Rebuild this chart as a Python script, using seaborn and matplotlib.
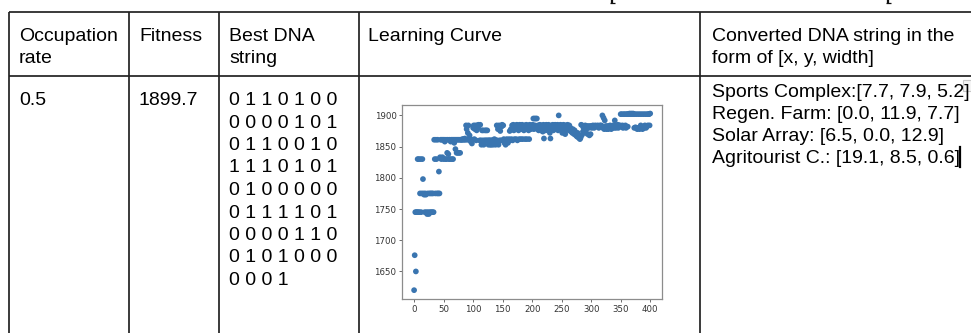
import matplotlib
matplotlib.use("Agg")
import matplotlib.pyplot as plt
from matplotlib.lines import Line2D
from matplotlib.patches import Rectangle
import seaborn as sns
import pandas as pd
import numpy as np

# ---------------- data ----------------
header_cells = [["Occupation", "rate"], ["Fitness"], ["Best DNA", "string"],
                ["Learning Curve"], ["Converted DNA string in the", "form of [x, y, width]"]]
occupation_rate = "0.5"
fitness_value = "1899.7"
dna_lines = ["0 1 1 0 1 0 0", "0 0 0 0 1 0 1", "0 1 1 0 0 1 0", "1 1 1 0 1 0 1",
             "0 1 0 0 0 0 0", "0 1 1 1 1 0 1", "0 0 0 0 1 1 0", "0 1 0 1 0 0 0", "0 0 0 1"]
converted_lines = ["Sports Complex:[7.7, 7.9, 5.2]", "Regen. Farm: [0.0, 11.9, 7.7]",
                   "Solar Array: [6.5, 0.0, 12.9]", "Agritourist C.: [19.1, 8.5, 0.6]"]

# best fitness per generation (gen 0..400)
fitness_by_gen = [
    1620, 1676, 1745, 1650, 1745, 1745, 1830, 1745, 1830, 1745,
    1775, 1830, 1745, 1775, 1830, 1798, 1775, 1773, 1745, 1775,
    1773, 1745, 1742, 1775, 1745, 1742, 1775, 1745, 1775, 1745,
    1775, 1745, 1775, 1745, 1861, 1830, 1775, 1861, 1830, 1775,
    1861, 1775, 1810, 1775, 1833, 1861, 1830, 1861, 1833, 1861,
    1830, 1861, 1858, 1830, 1861, 1830, 1840, 1861, 1838, 1830,
    1861, 1830, 1858, 1861, 1830, 1861, 1830, 1861, 1856, 1861,
    1846, 1861, 1840, 1861, 1840, 1861, 1840, 1861, 1840, 1861,
    1861, 1861, 1862, 1861, 1862, 1861, 1863, 1861, 1884, 1878,
    1861, 1872, 1884, 1861, 1868, 1862, 1858, 1861, 1855, 1861,
    1880, 1884, 1862, 1878, 1884, 1860, 1876, 1884, 1880, 1885,
    1884, 1860, 1885, 1860, 1853, 1876, 1860, 1876, 1853, 1860,
    1876, 1860, 1876, 1860, 1876, 1860, 1853, 1860, 1860, 1853,
    1860, 1853, 1860, 1860, 1853, 1860, 1862, 1860, 1853, 1860,
    1884, 1860, 1878, 1853, 1884, 1860, 1875, 1860, 1882, 1885,
    1860, 1884, 1862, 1856, 1860, 1853, 1860, 1862, 1860, 1856,
    1860, 1862, 1875, 1860, 1878, 1862, 1884, 1860, 1885, 1876,
    1862, 1884, 1878, 1862, 1885, 1860, 1884, 1876, 1862, 1885,
    1884, 1862, 1878, 1885, 1862, 1880, 1876, 1884, 1862, 1878,
    1885, 1862, 1880, 1884, 1876, 1862, 1885, 1880, 1878, 1884,
    1880, 1885, 1895, 1878, 1895, 1884, 1895, 1880, 1895, 1878,
    1884, 1876, 1880, 1885, 1878, 1876, 1884, 1880, 1874, 1885,
    1863, 1880, 1884, 1876, 1885, 1880, 1884, 1878, 1885, 1880,
    1872, 1863, 1878, 1884, 1880, 1885, 1876, 1884, 1880, 1885,
    1878, 1884, 1880, 1885, 1876, 1900, 1884, 1880, 1885, 1878,
    1884, 1872, 1880, 1885, 1876, 1884, 1870, 1880, 1884, 1878,
    1885, 1880, 1876, 1884, 1878, 1880, 1874, 1876, 1872, 1878,
    1874, 1870, 1876, 1872, 1868, 1870, 1866, 1872, 1868, 1864,
    1866, 1862, 1864, 1885, 1868, 1884, 1874, 1880, 1883, 1872,
    1884, 1876, 1883, 1880, 1870, 1883, 1880, 1868, 1883, 1870,
    1883, 1880, 1883, 1884, 1883, 1880, 1883, 1884, 1883, 1882,
    1883, 1884, 1883, 1880, 1883, 1884, 1883, 1884, 1883, 1900,
    1880, 1896, 1878, 1892, 1880, 1883, 1878, 1880, 1883, 1878,
    1880, 1883, 1884, 1880, 1878, 1883, 1880, 1884, 1883, 1880,
    1892, 1883, 1880, 1884, 1883, 1885, 1880, 1884, 1882, 1884,
    1902, 1882, 1902, 1884, 1880, 1902, 1882, 1902, 1884, 1880,
    1902, 1902, 1882, 1902, 1902, 1903, 1902, 1902, 1903, 1902,
    1902, 1903, 1902, 1880, 1902, 1881, 1880, 1902, 1878, 1880,
    1902, 1880, 1878, 1902, 1884, 1880, 1902, 1878, 1880, 1902,
    1880, 1884, 1902, 1880, 1882, 1902, 1884, 1902, 1902, 1884,
    1903,
]
generations = list(range(len(fitness_by_gen)))
x_ticks = [0, 50, 100, 150, 200, 250, 300, 350, 400]
y_ticks = [1650, 1700, 1750, 1800, 1850, 1900]

# ---------------- figure ----------------
W, H, DPI = 971, 333, 100
fig = plt.figure(figsize=(W / DPI, H / DPI), dpi=DPI, facecolor="white")

# page layer in pixel coordinates
page = fig.add_axes([0, 0, 1, 1])
page.set_xlim(0, W)
page.set_ylim(H, 0)
page.axis("off")

line_kw = dict(color="#222222", lw=1.25, solid_capstyle="butt")
col_x = [9, 129, 219, 359, 700]
top_y, sep_y = 11.5, 76.3
page.add_line(Line2D([col_x[0], W], [top_y, top_y], **line_kw))
page.add_line(Line2D([col_x[0], W], [sep_y, sep_y], **line_kw))
for cx in col_x:
    page.add_line(Line2D([cx, cx], [top_y, H], **line_kw))

txt_font = dict(family=["Liberation Sans", "DejaVu Sans"], fontsize=14, color="#000000",
                va="baseline", ha="left")
text_x = [19, 139, 229, 368, 712]
for cells, tx in zip(header_cells, text_x):
    for j, s in enumerate(cells):
        page.text(tx, 41 + 22.3 * j, s, **txt_font)

page.text(text_x[0], 105, occupation_rate, **txt_font)
page.text(text_x[1], 105, fitness_value, **txt_font)
for j, s in enumerate(dna_lines):
    page.text(text_x[2], 105 + 22.5 * j, s, **txt_font)
for j, s in enumerate(converted_lines):
    page.text(text_x[4], 97 + 22.1 * j, s, **txt_font)

# text cursor and small widget in last column
page.add_line(Line2D([959.5, 959.5], [147, 167], color="#000000", lw=1.6))
page.add_patch(Rectangle((963, 80), 12, 11, facecolor="#f4f4f4", edgecolor="#c8c8c8", lw=0.8))

# cut-off descender strokes of a title above the image (drawn as strokes)
for px in (612, 888):
    page.add_line(Line2D([px, px], [0, 3.2], color="#111111", lw=1.6, solid_capstyle="butt"))
    page.add_line(Line2D([px - 2.5, px + 2.5], [3.4, 3.4], color="#111111", lw=0.9,
                         solid_capstyle="butt"))

# ---------------- embedded learning curve ----------------
L, R, T, B = 402.3, 662.0, 104.7, 299.0
ax = fig.add_axes([L / W, (H - B) / H, (R - L) / W, (B - T) / H])
df = pd.DataFrame({"generation": generations, "fitness": fitness_by_gen})
sns.scatterplot(data=df, x="generation", y="fitness", ax=ax, s=17, color="#3a75b0",
                edgecolor="none", linewidth=0, alpha=1.0, legend=False)
ax.margins(0.05)
ax.set_xticks(x_ticks)
ax.set_yticks(y_ticks)
ax.set_xlabel("")
ax.set_ylabel("")
ax.tick_params(labelsize=6.2, colors="#555555", labelcolor="#333333", length=2.2, width=0.6, pad=2)
for sp in ax.spines.values():
    sp.set_color("#8c8c8c")
    sp.set_linewidth(0.9)
ax.set_facecolor("white")

fig.savefig("out.png", dpi=DPI, facecolor="white")
